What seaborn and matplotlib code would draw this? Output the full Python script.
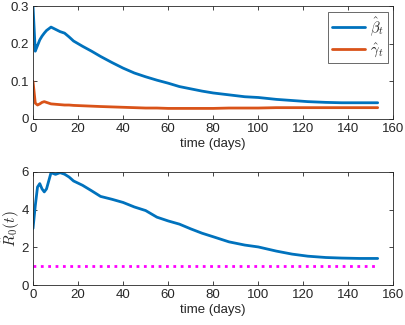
import pandas as pd
import seaborn as sns
import matplotlib.pyplot as plt

# -----------------------------
# Data
# -----------------------------
days = [0, 1, 2, 3, 4, 5, 6, 8, 10, 12, 14, 16, 18, 22, 26, 30, 35, 40, 45, 50,
        55, 60, 65, 70, 75, 80, 87, 94, 100, 108, 115, 122, 130, 137, 145, 153]

beta = [0.30, 0.18, 0.195, 0.21, 0.22, 0.228, 0.235, 0.244, 0.238, 0.232, 0.228,
        0.218, 0.207, 0.193, 0.18, 0.166, 0.15, 0.135, 0.122, 0.112, 0.103, 0.095,
        0.086, 0.080, 0.074, 0.069, 0.064, 0.059, 0.057, 0.052, 0.049, 0.046,
        0.044, 0.043, 0.043, 0.043]

gamma = [0.10, 0.042, 0.037, 0.040, 0.044, 0.046, 0.044, 0.040, 0.039, 0.038, 0.037,
         0.037, 0.036, 0.035, 0.034, 0.033, 0.032, 0.031, 0.030, 0.029, 0.029, 0.028,
         0.028, 0.028, 0.028, 0.028, 0.029, 0.029, 0.029, 0.030, 0.030, 0.030,
         0.030, 0.030, 0.030, 0.030]

r0 = [3.0, 4.2, 5.2, 5.38, 5.1, 4.94, 5.1, 5.96, 5.87, 5.96, 5.88, 5.73, 5.52,
      5.29, 5.0, 4.7, 4.55, 4.38, 4.14, 3.95, 3.6, 3.4, 3.23, 2.98, 2.75, 2.56,
      2.29, 2.12, 2.02, 1.8, 1.64, 1.53, 1.46, 1.43, 1.41, 1.41]

threshold = [1.0] * len(days)

df = pd.DataFrame({"day": days, "beta": beta, "gamma": gamma,
                   "r0": r0, "one": threshold})

BLUE = "#0072BD"
ORANGE = "#D95319"
MAGENTA = "#FF00FF"

sns.set_theme(style="ticks")
plt.rcParams["font.family"] = ["Liberation Sans", "DejaVu Sans"]
plt.rcParams["mathtext.fontset"] = "cm"

fig = plt.figure(figsize=(4.05, 3.25), dpi=100)
ax1 = fig.add_axes([0.0815, 0.634, 0.89, 0.3475])
ax2 = fig.add_axes([0.0815, 0.123, 0.89, 0.348])


def matlab_axes(ax):
    for s in ax.spines.values():
        s.set_color("#262626")
        s.set_linewidth(0.6)
    ax.tick_params(direction="in", top=True, right=True, length=3,
                   width=0.6, color="#262626", labelsize=9.5,
                   labelcolor="#262626", pad=3)


# top panel
sns.lineplot(data=df, x="day", y="beta", ax=ax1, color=BLUE, lw=2,
             label=r"$\hat{\beta}_t$")
sns.lineplot(data=df, x="day", y="gamma", ax=ax1, color=ORANGE, lw=2,
             label=r"$\hat{\gamma}_t$")
ax1.set_xlim(0, 160)
ax1.set_ylim(0, 0.3)
ax1.set_xticks(range(0, 161, 20))
ax1.set_yticks([0, 0.1, 0.2, 0.3])
ax1.set_yticklabels(["0", "0.1", "0.2", "0.3"])
ax1.set_xlabel("time (days)", fontsize=9.5, color="#262626", labelpad=2)
ax1.set_ylabel("")
matlab_axes(ax1)
leg = ax1.legend(loc="upper right", fontsize=10.5, frameon=True, fancybox=False,
                 handlelength=2.3, borderpad=0.25, labelspacing=0.25,
                 handletextpad=0.3, borderaxespad=0.4)
leg.get_frame().set_edgecolor("#262626")
leg.get_frame().set_linewidth(0.6)

# bottom panel
sns.lineplot(data=df, x="day", y="r0", ax=ax2, color=BLUE, lw=2)
sns.lineplot(data=df, x="day", y="one", ax=ax2, color=MAGENTA, lw=2,
             linestyle=":")
ax2.set_xlim(0, 160)
ax2.set_ylim(0, 6)
ax2.set_xticks(range(0, 161, 20))
ax2.set_yticks([0, 2, 4, 6])
ax2.set_xlabel("time (days)", fontsize=9.5, color="#262626", labelpad=2)
ax2.set_ylabel(r"$\hat{R}_0(t)$", fontsize=11, color="#262626")
ax2.yaxis.set_label_coords(-0.03, 0.5)
matlab_axes(ax2)

plt.savefig("out.png", dpi=100)
plt.close()
